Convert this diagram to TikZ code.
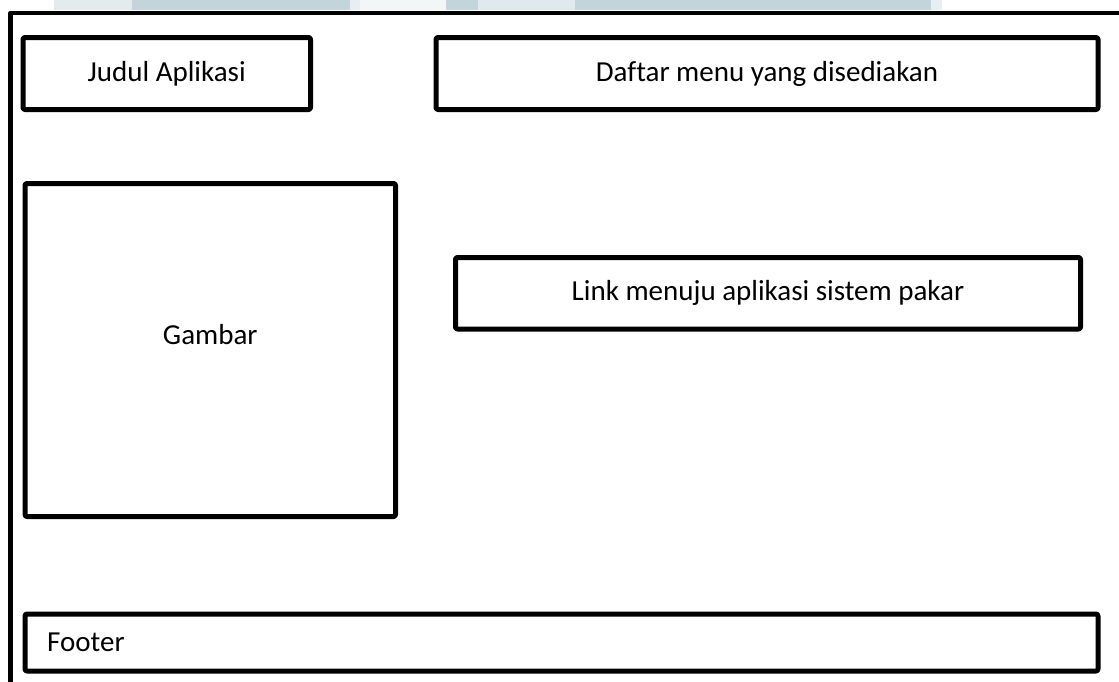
\documentclass[tikz,border=0pt]{standalone}
\usepackage{fontspec}
\setmainfont{Carlito}[Ligatures=CommonOff]
\begin{document}
\begin{tikzpicture}[x=1pt,y=-1pt,
  panel/.style={draw=black,line width=5pt,rounded corners=2pt,line join=round,
    rectangle,inner sep=0pt,outer sep=0pt,fill=white},
  caption/.style={font=\fontsize{29}{35}\selectfont,inner sep=0pt},
  frameline/.style={draw=black,line width=4.5pt,line join=round}]
  \useasboundingbox (0,0) rectangle (1119,681);
  \fill[white] (0,0) rectangle (1119,681);

  % faint band along the top edge
  \fill[color={rgb,255:red,227;green,235;blue,238}] (54,0) rectangle (132,10);
  \fill[color={rgb,255:red,195;green,212;blue,219}] (132,0) rectangle (350,10);
  \fill[color={rgb,255:red,232;green,239;blue,242}] (350,0) rectangle (360,10);
  \fill[color={rgb,255:red,243;green,246;blue,247}] (360,0) rectangle (446,10);
  \fill[color={rgb,255:red,195;green,212;blue,219}] (446,0) rectangle (478,10);
  \fill[color={rgb,255:red,224;green,234;blue,238}] (478,0) rectangle (575,10);
  \fill[color={rgb,255:red,195;green,212;blue,219}] (575,0) rectangle (931,10);
  \fill[color={rgb,255:red,232;green,239;blue,242}] (931,0) rectangle (942,10);

  % page frame (left and top edges)
  \coordinate (frameBottom) at (10.5,700);
  \coordinate (frameCorner) at (10.5,13);
  \coordinate (frameRight) at (1130,13);
  \draw[frameline] (frameBottom) -- (frameCorner) -- (frameRight);

  % header
  \node[panel,caption,minimum width=287.5pt,minimum height=72pt] (judul) at (166.75,73.5) {Judul Aplikasi};
  \node[panel,caption,minimum width=662pt,minimum height=72pt] (menu) at (767,73.5) {Daftar menu yang disediakan};

  % content
  \node[panel,minimum width=370.5pt,minimum height=333pt] (gambar) at (210.25,350) {};
  \node[caption] (gambarText) at (210.25,335) {Gambar};
  \node[panel,caption,minimum width=625pt,minimum height=71.5pt] (link) at (768,293.25) {Link menuju aplikasi sistem pakar};

  % footer
  \node[panel,minimum width=1073pt,minimum height=57pt] (footer) at (561.5,642.5) {};
  \node[caption,anchor=west] (footerText) at (47,642.5) {Footer};
\end{tikzpicture}
\end{document}
